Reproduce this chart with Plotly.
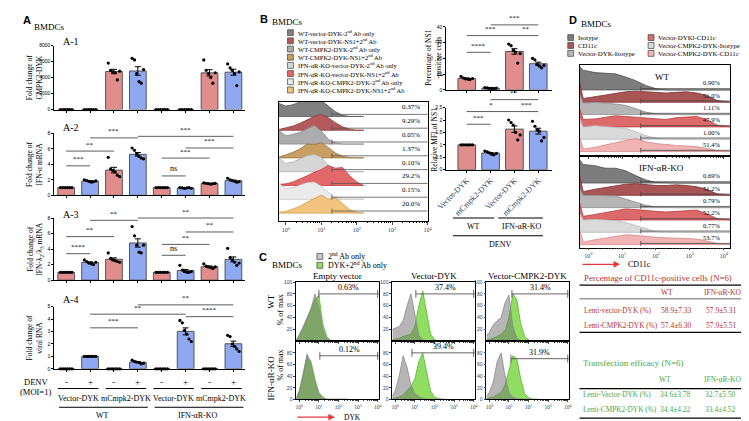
import numpy as np
import plotly.graph_objects as go

W, H = 749, 421
SERIF = "Liberation Serif, Times New Roman, serif"
SANS = "Liberation Sans, Arial, sans-serif"
PINK = "#E28D8D"
BLUE = "#8EA9F2"
EDGE = "#555555"

# ======================= DATA =======================
A_DENV = ["-", "+", "-", "+", "-", "+", "-", "+"]
A_CONSTRUCTS = ["Vector-DYK", "mCmpk2-DYK", "Vector-DYK", "mCmpk2-DYK"]
A_GENOTYPES = ["WT", "IFN-αR-KO"]

A1_DOTS = [[0, 0, 0, 0, 0, 0], [0, 0, 0, 0, 0, 0],
           [5800, 4900, 4700, 4600, 3700, 4800], [6400, 6200, 4500, 3500, 3300, 5000],
           [0, 0, 0, 0, 0, 0], [0, 0, 0, 0, 0, 0],
           [6200, 4900, 4500, 4000, 3300, 4600], [5700, 5200, 4900, 4500, 3000, 4700]]
A2_DOTS = [[1, 1, 1, 1, 1, 1], [2.0, 1.9, 1.8, 1.7, 1.75, 1.85],
           [4.9, 3.4, 3.2, 3.0, 2.6, 2.4], [6.1, 5.8, 5.3, 5.0, 4.8, 4.7],
           [1, 1, 1, 1, 1, 1], [1.0, 0.95, 0.9, 0.95, 1.0, 0.9],
           [1.6, 1.55, 1.5, 1.45, 1.5, 1.55], [2.2, 2.0, 1.9, 1.8, 1.7, 1.75]]
A3_DOTS = [[1, 1, 1, 1, 1, 1], [2.6, 2.4, 2.2, 2.1, 2.0, 2.3],
           [3.5, 2.8, 2.6, 2.5, 2.4, 2.3], [6.9, 5.7, 4.5, 3.6, 3.5, 4.5],
           [1, 1, 1, 1, 1, 1], [1.9, 1.3, 1.1, 1.0, 1.0, 1.1],
           [2.1, 1.8, 1.7, 1.6, 1.5, 1.7], [4.1, 2.9, 2.6, 2.3, 1.9, 2.2]]
A4_DOTS = [[0, 0, 0, 0, 0, 0], [1, 1, 1, 1, 1, 1],
           [0, 0, 0, 0, 0, 0], [0.7, 0.6, 0.55, 0.5, 0.4, 0.45],
           [0, 0, 0, 0, 0, 0], [3.9, 3.7, 3.1, 2.8, 2.4, 2.2],
           [0, 0, 0, 0, 0, 0], [2.7, 2.6, 2.0, 1.8, 1.6, 1.4]]
A1_TICKS = [0, 2000, 4000, 6000, 8000]
A23_TICKS = [0, 2, 4, 6, 8]
A4_TICKS = [0, 1, 2, 3, 4, 5]
A1_SIGS = []
A2_SIGS = [(0, 1, 3.8, "***"), (0, 2, 5.7, "**"), (1, 3, 7.4, "***"), (3, 7, 7.6, "***"),
           (4, 5, 2.5, "ns"), (4, 6, 4.8, "***"), (5, 7, 6.1, "***")]
A3_SIGS = [(0, 1, 3.4, "****"), (0, 2, 5.6, "**"), (1, 3, 7.7, "**"), (3, 7, 8.0, "**"),
           (4, 5, 3.2, "ns"), (4, 6, 4.6, "**"), (5, 7, 6.2, "**")]
A4_SIGS = [(1, 3, 3.3, "***"), (1, 5, 4.4, "**"), (3, 7, 5.15, "**"), (5, 7, 4.2, "****")]

B_LEGEND = ["WT-vector-DYK-2<sup>nd</sup> Ab only", "WT-vector-DYK-NS1+2<sup>nd</sup> Ab",
            "WT-CMPK2-DYK-2<sup>nd</sup> Ab only", "WT-CMPK2-DYK-NS1+2<sup>nd</sup> Ab",
            "IFN-αR-KO-vector-DYK-2<sup>nd</sup> Ab only", "IFN-αR-KO-vector-DYK-NS1+2<sup>nd</sup> Ab",
            "IFN-αR-KO-CMPK2-DYK-2<sup>nd</sup> Ab only", "IFN-αR-KO-CMPK2-DYK-NS1+2<sup>nd</sup> Ab"]
B_COLORS = ["#808080", "#b55a5c", "#adadad", "#c89e62", "#d6d6d6", "#e2686a", "#ebebeb", "#f2c47e"]
B_LINES = ["#555555", "#8c3a3c", "#8a8a8a", "#9c7440", "#b0b0b0", "#c83c3e", "#c8c8c8", "#d69a48"]
B_X = [-0.2, 0.0, 0.2, 0.4, 0.6, 0.8, 1.0, 1.2, 1.4, 1.6, 1.8, 2.0, 2.2]
B_HIST = [
    [0.95, 0.75, 0.85, 1.05, 1.25, 1.35, 1.15, 0.75, 0.35, 0.08, 0.0, 0.0, 0.0],
    [0.05, 0.15, 0.3, 0.5, 0.75, 1.0, 1.15, 0.9, 0.55, 0.25, 0.08, 0.0, 0.0],
    [1.0, 0.6, 0.7, 0.85, 1.1, 1.35, 0.95, 0.35, 0.08, 0.0, 0.0, 0.0, 0.0],
    [0.05, 0.2, 0.4, 0.65, 1.0, 0.95, 1.1, 0.75, 0.35, 0.12, 0.02, 0.0, 0.0],
    [1.0, 0.6, 0.7, 0.95, 1.15, 1.25, 1.05, 0.45, 0.12, 0.0, 0.0, 0.0, 0.0],
    [0.08, 0.12, 0.25, 0.45, 0.7, 0.95, 1.15, 1.45, 1.25, 1.3, 0.7, 0.25, 0.05],
    [1.15, 0.8, 0.85, 1.0, 1.2, 1.25, 0.95, 0.5, 0.15, 0.02, 0.0, 0.0, 0.0],
    [0.05, 0.12, 0.3, 0.5, 0.8, 1.05, 1.3, 1.0, 1.1, 0.7, 0.25, 0.05, 0.0]]
B_PCT = ["0.37%", "9.29%", "0.05%", "1.37%", "0.10%", "29.2%", "0.15%", "20.0%"]
B_GATE = 1.3

B_BAR_LABELS = ["Vector-DYK", "mCmpk2-DYK", "Vector-DYK", "mCmpk2-DYK"]
BP_DOTS = [[8.5, 7.5, 7.0, 6.8, 6.5, 7.2], [1.5, 1.2, 1.0, 0.9, 0.8, 1.1],
           [29, 28, 25, 24, 17, 23], [20, 19, 16, 15, 14, 15.5]]
BM_DOTS = [[1, 1, 1, 1, 1, 1], [0.75, 0.72, 0.68, 0.62, 0.6, 0.66],
           [2.0, 1.9, 1.8, 1.5, 1.2, 1.4], [1.95, 1.75, 1.6, 1.55, 1.16, 1.3]]
BP_SIGS = [(0, 1, 23.8, "****"), (0, 2, 34.4, "***"), (1, 3, 41.2, "***"), (2, 3, 34.4, "**")]
BM_SIGS = [(0, 1, 1.83, "***"), (0, 2, 2.34, "*"), (1, 3, 2.82, "**"), (2, 3, 2.34, "***")]

C_COLS = ["Empty vector", "Vector-DYK", "Vector-CMPK2-DYK"]
C_ROWS = ["WT", "IFN-αR-KO"]
C_X = [-0.15, 0.0, 0.2, 0.4, 0.6, 0.8, 1.0, 1.2, 1.4, 1.6, 1.8, 2.0, 2.2, 2.5]
C_GREY = [
    [[2, 10, 25, 40, 55, 80, 60, 20, 5, 0, 0, 0, 0, 0],
     [20, 22, 25, 35, 60, 80, 45, 10, 2, 0, 0, 0, 0, 0],
     [10, 15, 28, 35, 40, 65, 78, 25, 5, 0, 0, 0, 0, 0]],
    [[2, 15, 45, 78, 60, 30, 10, 3, 0, 0, 0, 0, 0, 0],
     [5, 15, 40, 75, 55, 25, 10, 5, 2, 0, 0, 0, 0, 0],
     [5, 12, 30, 65, 80, 40, 12, 4, 1, 0, 0, 0, 0, 0]]]
C_GREEN = [
    [[2, 10, 22, 38, 55, 70, 78, 30, 8, 1, 0, 0, 0, 0],
     [2, 3, 5, 8, 10, 12, 25, 60, 85, 45, 12, 3, 0, 0],
     [2, 3, 5, 8, 12, 18, 40, 80, 70, 30, 8, 2, 0, 0]],
    [[2, 12, 40, 75, 65, 35, 12, 4, 0, 0, 0, 0, 0, 0],
     [1, 2, 4, 8, 15, 22, 35, 65, 80, 50, 15, 4, 1, 0],
     [1, 2, 4, 8, 12, 25, 50, 75, 70, 35, 10, 3, 0, 0]]]
C_GATE_START = [[1.0, 1.05, 1.15], [1.05, 0.85, 1.1]]
C_GATE_LEVEL = [[80, 80, 80], [75, 80, 70]]
C_PCT = [["0.63%", "37.4%", "31.4%"], ["0.12%", "39.4%", "31.9%"]]

D_LEGEND = ["Isotype", "CD11c", "Vector-DYK-Isotype",
            "Vector-DYKl-CD11c", "Vector-CMPK2-DYK-Isotype", "Vector-CMPK2-DYK-CD11c"]
D_COLORS = ["#7c7c7c", "#a95556", "#b5b5b5", "#dc6a6a", "#dadada", "#f0b4b4"]
D_LINES = ["#505050", "#7c2f30", "#8f8f8f", "#b83c3c", "#b8b8b8", "#d88888"]
D_X = [-0.26, -0.15, 0.2, 0.5, 0.8, 1.1, 1.4, 1.7, 2.0, 2.3, 2.6, 2.9, 3.2, 3.5, 3.8, 4.2]
D_HIST = {
    "WT": [
        [1.9, 1.6, 1.4, 1.35, 1.3, 1.05, 0.75, 0.35, 0.1, 0, 0, 0, 0, 0, 0, 0],
        [1.6, 0.3, 0.45, 0.6, 0.75, 0.85, 0.9, 0.85, 0.8, 0.75, 0.8, 0.85, 0.75, 0.55, 0.15, 0],
        [1.7, 0.9, 1.0, 0.95, 0.85, 0.75, 0.5, 0.2, 0.05, 0, 0, 0, 0, 0, 0, 0],
        [1.5, 0.6, 0.65, 0.8, 0.9, 0.85, 0.8, 0.7, 0.65, 0.6, 0.75, 0.8, 0.85, 0.6, 0.15, 0],
        [1.7, 1.0, 1.1, 1.05, 1.0, 0.9, 0.6, 0.3, 0.08, 0, 0, 0, 0, 0, 0, 0],
        [1.2, 0.2, 0.35, 0.55, 0.75, 0.9, 1.05, 0.8, 0.65, 0.55, 0.5, 0.45, 0.4, 0.25, 0.08, 0]],
    "IFN-αR-KO": [
        [1.9, 1.5, 1.4, 1.2, 1.2, 1.0, 0.6, 0.25, 0.05, 0, 0, 0, 0, 0, 0, 0],
        [1.6, 0.3, 0.5, 0.65, 0.8, 0.9, 0.95, 0.85, 0.8, 0.8, 0.85, 0.8, 0.7, 0.5, 0.12, 0],
        [1.6, 1.0, 1.0, 1.0, 0.95, 0.7, 0.45, 0.2, 0.05, 0, 0, 0, 0, 0, 0, 0],
        [1.4, 0.3, 0.45, 0.6, 0.75, 0.9, 0.85, 0.75, 0.7, 0.65, 0.7, 0.75, 0.8, 0.5, 0.12, 0],
        [1.6, 1.0, 1.05, 1.0, 0.95, 0.8, 0.55, 0.25, 0.05, 0, 0, 0, 0, 0, 0, 0],
        [1.2, 0.2, 0.4, 0.55, 0.7, 0.8, 0.75, 0.65, 0.6, 0.55, 0.55, 0.5, 0.45, 0.3, 0.08, 0]]}
D_PCT = {"WT": ["0.90%", "51.0%", "1.11%", "47.9%", "1.00%", "51.4%"],
         "IFN-αR-KO": ["0.69%", "51.2%", "0.79%", "52.2%", "0.77%", "53.7%"]}
D_GATE = 1.55

T1_TITLE = "Percentage of CD11c-positive cells (N=6)"
T1_ROWS = ["Lenti-vector-DYK (%)", "Lenti-CMPK2-DYK (%)"]
T1_WT = ["58.9±7.33", "57.4±6.30"]
T1_KO = ["57.9±5.31", "57.9±5.51"]
T2_TITLE = "Transfection efficacy (N=6)"
T2_ROWS = ["Lenti-Vector-DYK (%)", "Lenti-CMPK2-DYK (%)"]
T2_WT = ["34.6±3.78", "34.4±4.22"]
T2_KO = ["32.7±5.50", "33.4±4.52"]
LOG_TICKS = [0, 1, 2, 3, 4]
LOG_TEXT = ["10<sup>0</sup>", "10<sup>1</sup>", "10<sup>2</sup>", "10<sup>3</sup>", "10<sup>4</sup>"]

# ======================= HELPERS =======================
fig = go.Figure()
ANN, SH = [], []
_ax = [0]


def axes(dom, xr, yr, xkw=None, ykw=None):
    px0, px1, py0, py1 = dom
    _ax[0] += 1
    k = _ax[0]
    s = "" if k == 1 else str(k)
    base = dict(showgrid=False, zeroline=False, fixedrange=True, showline=False,
                ticks="", showticklabels=False)
    xa = dict(base, domain=[px0 / W, px1 / W], range=list(xr), anchor="y" + s)
    ya = dict(base, domain=[1 - py1 / H, 1 - py0 / H], range=list(yr), anchor="x" + s)
    if xkw:
        xa.update(xkw)
    if ykw:
        ya.update(ykw)
    fig.update_layout(**{"xaxis" + s: xa, "yaxis" + s: ya})

    def X(v):
        return px0 + (v - xr[0]) / (xr[1] - xr[0]) * (px1 - px0)

    def Y(v):
        return py1 - (v - yr[0]) / (yr[1] - yr[0]) * (py1 - py0)
    return "x" + s, "y" + s, X, Y


def T(x, y, s, size=8, color="black", family=SERIF, xa="center", ya="middle", angle=0):
    ANN.append(dict(x=x / W, y=1 - y / H, xref="paper", yref="paper", text=s, showarrow=False,
                    xanchor=xa, yanchor=ya, textangle=angle,
                    font=dict(family=family, size=size, color=color)))


def L(x0, y0, x1, y1, color="black", width=1):
    SH.append(dict(type="line", xref="paper", yref="paper", x0=x0 / W, y0=1 - y0 / H,
                   x1=x1 / W, y1=1 - y1 / H, line=dict(color=color, width=width)))


def R(x0, y0, x1, y1, fill, line="#444444", width=0.7):
    SH.append(dict(type="rect", xref="paper", yref="paper", x0=x0 / W, y0=1 - y0 / H,
                   x1=x1 / W, y1=1 - y1 / H, fillcolor=fill, line=dict(color=line, width=width)))


def ARROW(x0, x1, y, color="#e23a3a"):
    L(x0, y, x1 - 4, y, color=color, width=1.3)
    pts = [(x1, y), (x1 - 6, y - 3), (x1 - 6, y + 3)]
    path = "M " + " L ".join(f"{px / W:.5f},{1 - py / H:.5f}" for px, py in pts) + " Z"
    SH.append(dict(type="path", xref="paper", yref="paper", path=path, fillcolor=color,
                   line=dict(color=color, width=0.5)))


TICKF = dict(family=SANS, size=5, color="black")
DX = [-0.24, -0.14, -0.05, 0.05, 0.14, 0.24]


def bar_chart(dots, dom, xr, yr, yticks, sigs, bw, xkw_extra=None):
    n = len(dots)
    xkw = dict(showline=True, linecolor="black", linewidth=1, ticks="outside", ticklen=2,
               tickcolor="black", tickvals=list(range(n)), showticklabels=False)
    if xkw_extra:
        xkw.update(xkw_extra)
    ykw = dict(showline=True, linecolor="black", linewidth=1, ticks="outside", ticklen=2,
               tickcolor="black", tickvals=yticks, showticklabels=True, tickfont=TICKF)
    xid, yid, X, Y = axes(dom, xr, yr, xkw, ykw)
    means = [float(np.mean(d)) for d in dots]
    sems = [float(np.std(d, ddof=1) / np.sqrt(len(d))) for d in dots]
    colors = [PINK if i % 2 == 0 else BLUE for i in range(n)]
    fig.add_trace(go.Bar(x=list(range(n)), y=means, width=bw, xaxis=xid, yaxis=yid,
                         marker=dict(color=colors, line=dict(color=EDGE, width=1)),
                         error_y=dict(type="data", array=sems, color="black", thickness=1, width=3)))
    xs, ys = [], []
    for i, d in enumerate(dots):
        for j, v in enumerate(d):
            xs.append(i + DX[j])
            ys.append(v)
    fig.add_trace(go.Scatter(x=xs, y=ys, mode="markers", xaxis=xid, yaxis=yid, cliponaxis=False,
                             marker=dict(color="black", size=3.2)))
    for i, j, lvl, lab in sigs:
        L(X(i), Y(lvl), X(j), Y(lvl), color="#333333", width=0.8)
        T((X(i) + X(j)) / 2, Y(lvl) - 0.5, lab, size=7 if lab != "ns" else 8, ya="bottom")
    return X, Y


def filled(xid, yid, xs, hs, base, fill, line, lw=0.8):
    px = list(xs) + [xs[-1], xs[0]]
    py = [base + h for h in hs] + [base, base]
    fig.add_trace(go.Scatter(x=px, y=py, mode="lines", fill="toself", fillcolor=fill,
                             line=dict(color=line, width=lw), xaxis=xid, yaxis=yid, hoverinfo="skip"))


MINOR = [d + np.log10(k) for d in range(0, 4) for k in range(2, 10)]

# ======================= PANEL A =======================
T(3, 9, "<b>A</b>", size=11, family=SANS, xa="left")
T(14, 16, "BMDCs", size=9, xa="left")
AX = (37, 232)
A_SPECS = [
    (A1_DOTS, (35, 100), (0, 8000), A1_TICKS, A1_SIGS, "A-1", 31, "Fold change of<br>CMPK2-DYK"),
    (A2_DOTS, (124, 187), (0, 8), A23_TICKS, A2_SIGS, "A-2", 118, "Fold change of<br>IFN-α mRNA"),
    (A3_DOTS, (210, 273), (0, 8), A23_TICKS, A3_SIGS, "A-3", 206,
     "Fold change of<br>IFN-λ<sub>2</sub>/λ<sub>3</sub> mRNA"),
    (A4_DOTS, (300, 363), (0, 5), A4_TICKS, A4_SIGS, "A-4", 293, "Fold change of<br>viral RNA"),
]
for dots, (y0, y1), yr, yt, sigs, title, ty, ytitle in A_SPECS:
    Xa, Ya = bar_chart(dots, (AX[0], AX[1], y0, y1), (-0.5, 7.5), yr, yt, sigs, 0.7)
    T(44, ty, title, size=10, xa="left")
    T(17, (y0 + y1) / 2, ytitle, size=7.5, angle=-90)

# DENV annotations under A-4
T(18, 376, "DENV", size=8.5)
T(18, 387, "(MOI=1)", size=8.5)
for i, s in enumerate(A_DENV):
    T(Xa(i), 376, s, size=9)
for k, name in enumerate(A_CONSTRUCTS):
    L(Xa(2 * k - 0.35), 383, Xa(2 * k + 1.35), 383, width=1)
    T(Xa(2 * k + 0.5), 393, name, size=8)
for k, g in enumerate(A_GENOTYPES):
    L(Xa(4 * k - 0.3), 402, Xa(4 * k + 3.42), 402, width=1)
    T(Xa(4 * k + 1.5), 410, g, size=8)

# ======================= PANEL B =======================
T(245, 8, "<b>B</b>", size=11, family=SANS, xa="left")
T(257, 11, "BMDCs", size=9, xa="left")
for i, (lab, c) in enumerate(zip(B_LEGEND, B_COLORS)):
    y = 22 + 8.3 * i
    R(275, y - 3, 281, y + 3, c)
    T(284, y, lab, size=6.5, xa="left")

bx, by, BXf, BYf = axes((266, 418, 92, 213), (-0.2, 4.0), (-0.57, 8.07),
                        dict(showline=True, mirror=True, linecolor="black", linewidth=1,
                             ticks="outside", ticklen=3, tickvals=LOG_TICKS, ticktext=LOG_TEXT,
                             showticklabels=True, tickfont=dict(family=SERIF, size=6),
                             minor=dict(tickvals=MINOR, ticks="outside", ticklen=1.5, tickcolor="black")),
                        dict(showline=True, mirror=True, linecolor="black", linewidth=1))
for i in range(8):
    base = 7 - i
    filled(bx, by, B_X, B_HIST[i], base, B_COLORS[i], B_LINES[i])
for i in range(8):
    base = 7 - i
    yy = BYf(base + 0.15)
    L(BXf(B_GATE), yy, BXf(4.0), yy, color="#555555", width=0.8)
    L(BXf(B_GATE), yy - 2.5, BXf(B_GATE), yy + 2.5, color="#555555", width=0.8)
    T(BXf(3.85), yy - 1, B_PCT[i], size=7, xa="right", ya="bottom")

# B bar charts
BXR = (-0.86, 3.58)
Xp, Yp = bar_chart(BP_DOTS, (437, 545, 16, 80), BXR, (0, 40), [0, 10, 20, 30, 40], BP_SIGS, 0.74)
T(424, 48, "Percentage of NS1<br>-positive cells", size=7.5, angle=-90)
Xm, Ym = bar_chart(BM_DOTS, (437, 545, 98, 161), BXR, (0, 2.5), [0, 0.5, 1.0, 1.5, 2.0, 2.5], BM_SIGS,
                   0.74, dict(showticklabels=True, ticktext=B_BAR_LABELS, tickangle=-45,
                              tickfont=dict(family=SERIF, size=8)))
T(425, 130, "Relative MFI of NS1", size=7.5, angle=-90)
L(Xm(-0.58), 210, Xm(1.15), 210)
T(Xm(0.3), 219, "WT", size=8)
L(Xm(1.32), 210, Xm(3.2), 210)
T(Xm(2.3), 219, "IFN-αR-KO", size=8)
L(Xm(-0.58), 228, Xm(3.2), 228)
T(Xm(1.4), 237, "DENV", size=8)

# ======================= PANEL C =======================
T(244, 250, "<b>C</b>", size=11, family=SANS, xa="left")
T(257, 258, "BMDCs", size=9, xa="left")
R(305, 246, 311, 252, "#c8c8c8")
T(314, 249, "2<sup>nd</sup> Ab only", size=8, xa="left")
R(305, 255, 311, 261, "#8fe05a")
T(314, 258, "DYK+2<sup>nd</sup> Ab only", size=8, xa="left")
C_XDOM = [(284, 368), (382, 466), (478, 562)]
C_YDOM = [(275, 335), (335, 394)]
for c, name in enumerate(C_COLS):
    T((C_XDOM[c][0] + C_XDOM[c][1]) / 2, 268.5, name, size=9)
for r in range(2):
    for c in range(3):
        x0, x1 = C_XDOM[c]
        y0, y1 = C_YDOM[r]
        yt = [20, 40, 60, 80, 100] if r == 0 else [0, 20, 40, 60, 80]
        cx, cy, CX, CY = axes((x0, x1, y0, y1), (-0.15, 4.05), (0, 100),
                              dict(showline=True, mirror=True, linecolor="black", linewidth=0.8,
                                   ticks="outside", ticklen=2, tickvals=LOG_TICKS, ticktext=LOG_TEXT,
                                   showticklabels=(r == 1), tickfont=dict(family=SERIF, size=5.5),
                                   minor=dict(tickvals=MINOR, ticks="outside", ticklen=1)),
                              dict(showline=True, mirror=True, linecolor="black", linewidth=0.8,
                                   ticks="outside", ticklen=2, tickvals=yt,
                                   showticklabels=True, tickfont=dict(family=SANS, size=5)))
        filled(cx, cy, C_X, C_GREEN[r][c], 0, "rgba(125,215,70,0.85)", "#55b82e")
        filled(cx, cy, C_X, C_GREY[r][c], 0, "rgba(110,110,110,0.5)", "#8a8a8a")
        gs, gl = C_GATE_START[r][c], C_GATE_LEVEL[r][c]
        L(CX(gs), CY(gl), CX(4.05), CY(gl), color="#555555", width=0.9)
        L(CX(gs), CY(gl) - 4, CX(gs), CY(gl) + 4, color="#555555", width=0.9)
        L(CX(4.05) - 1, CY(gl) - 4, CX(4.05) - 1, CY(gl) + 4, color="#555555", width=0.9)
        T(CX((gs + 4.05) / 2), CY(gl) + 0.5, C_PCT[r][c], size=8, ya="bottom")
T(258, 295, "WT", size=9, angle=-90)
T(268, 303, "% of max", size=8, angle=-90)
T(258, 372, "IFN-αR-KO", size=9, angle=-90)
T(268, 359, "% of max", size=8, angle=-90)
ARROW(285, 323, 412)
T(331, 412, "DYK", size=7.5, xa="left")

# ======================= PANEL D =======================
T(560, 9, "<b>D</b>", size=11, family=SANS, xa="left")
T(572, 13, "BMDCs", size=9, xa="left")
for i, (lab, col) in enumerate(zip(D_LEGEND, D_COLORS)):
    colx = 561 if i < 3 else 643
    y = 27 + 8 * (i % 3)
    R(colx, y - 3, colx + 6, y + 3, col)
    T(colx + 8.5, y, lab, size=6.8, xa="left")

D_DOMS = {"WT": (55, 147, (-0.35, 7.0)), "IFN-αR-KO": (147, 240, (-0.24, 7.2))}
for gi, g in enumerate(["WT", "IFN-αR-KO"]):
    y0, y1, yr = D_DOMS[g]
    dx, dy, DXf, DYf = axes((573, 727, y0, y1), (-0.26, 4.2), yr,
                            dict(showline=True, mirror=True, linecolor="black", linewidth=0.8,
                                 ticks="outside", ticklen=2, tickvals=LOG_TICKS, ticktext=LOG_TEXT,
                                 showticklabels=(gi == 1), tickfont=dict(family=SERIF, size=6),
                                 minor=dict(tickvals=MINOR, ticks="outside", ticklen=1)),
                            dict(showline=True, mirror=True, linecolor="black", linewidth=0.8))
    for i in range(6):
        filled(dx, dy, D_X, D_HIST[g][i], 5 - i, D_COLORS[i], D_LINES[i])
    for i in range(6):
        yy = DYf(5 - i + 0.1)
        L(DXf(D_GATE), yy, DXf(4.2), yy, color="#444444", width=0.8)
        L(DXf(D_GATE), yy - 2.5, DXf(D_GATE), yy + 2.5, color="#444444", width=0.8)
        T(718, yy - 0.5, D_PCT[g][i], size=6.5, xa="right", ya="bottom")
    T(657, y0 + 12, g, size=9)
ARROW(576, 614, 257)
T(620, 257, "CD11c", size=8, xa="left")

# ======================= TABLES =======================
RED = "#b43232"
GREEN = "#48a848"
T(576, 271, T1_TITLE, size=8.8, color=RED, xa="left")
L(573, 278, 748, 278, width=1.3)
T(662, 286, "WT", size=7.5, color=RED)
T(719, 286, "IFN-αR-KO", size=7.5, color=RED)
L(573, 292, 748, 292, width=0.6)
for k in range(2):
    yy = 304 + 15 * k
    T(576, yy, T1_ROWS[k], size=7.3, color=RED, xa="left")
    T(672, yy, T1_WT[k], size=7.5, color=RED)
    T(718, yy, T1_KO[k], size=7.5, color=RED)
L(573, 326, 748, 326, width=1.3)

T(574, 357, T2_TITLE, size=9, color=GREEN, xa="left")
T(660, 374, "WT", size=7.5, color=GREEN)
T(719, 374, "IFN-αR-KO", size=7.5, color=GREEN)
L(573, 383, 748, 383, width=1.3)
for k in range(2):
    yy = 389 + 15 * k
    T(574, yy, T2_ROWS[k], size=7.3, color=GREEN, xa="left")
    T(671, yy, T2_WT[k], size=7.5, color=GREEN)
    T(717, yy, T2_KO[k], size=7.5, color=GREEN)
L(573, 413, 748, 413, width=1.3)

fig.update_layout(width=W, height=H, margin=dict(l=0, r=0, t=0, b=0), showlegend=False,
                  paper_bgcolor="white", plot_bgcolor="white", barmode="overlay",
                  annotations=ANN, shapes=SH, font=dict(family=SERIF))
fig.write_html("out.html")
